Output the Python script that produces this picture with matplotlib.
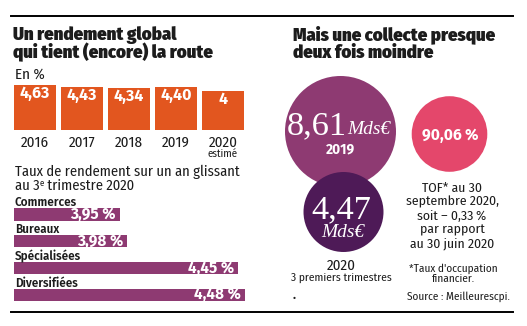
import numpy as np
import matplotlib
matplotlib.use("Agg")
import matplotlib.pyplot as plt
from matplotlib.patches import Circle

# data
years = ["2016", "2017", "2018", "2019", "2020"]
rendement = [4.63, 4.43, 4.34, 4.40, 4.0]
rendement_labels = ["4,63", "4,43", "4,34", "4,40", "4"]

categories = ["Commerces", "Bureaux", "Spécialisées", "Diversifiées"]
taux = [3.95, 3.98, 4.45, 4.48]
taux_labels = ["3,95 %", "3,98 %", "4,45 %", "4,48 %"]

collecte = [8.61, 4.47]
collecte_labels = ["8,61", "4,47"]
collecte_years = ["2019", "2020"]
tof_label = "90,06\u2009%"
tof_lines = ["TOF* au 30", "septembre 2020,", "soit – 0,33\u2009%", "par rapport", "au 30 juin 2020"]

ORANGE = "#E2561F"
PURPLE = "#8E3A72"
DARK = "#4E1A57"
PINK = "#E4476B"
TXT = "#1c1c1c"

COND = ["Fira Sans Condensed", "Roboto Condensed", "DejaVu Sans"]
WIDE = ["Fira Sans", "Roboto", "DejaVu Sans"]
SERIF = ["Liberation Serif", "DejaVu Serif"]

plt.rcParams["font.family"] = COND

W, H = 527, 326
fig = plt.figure(figsize=(W / 100, H / 100), dpi=100)
fig.patch.set_facecolor("white")
renderer = fig.canvas.get_renderer()


def px_axes(left, top, right, bottom):
    return fig.add_axes([left / W, 1 - bottom / H, (right - left) / W, (bottom - top) / H])


def text_width(s, size, **kw):
    t = fig.text(0, 0, s, fontsize=size, **kw)
    w = t.get_window_extent(renderer=renderer).width
    t.remove()
    return w


def fit_size(s, width, **kw):
    # font size that gives a text of this width in pixels
    return 10 * width / text_width(s, 10, **kw)


# overlay in pixel coords for text, rules and circles
ov = fig.add_axes([0, 0, 1, 1])
ov.set_xlim(0, W)
ov.set_ylim(H, 0)
ov.axis("off")

ov.plot([11, 513], [16, 16], color="black", lw=1.4)
ov.plot([11, 513], [311.5, 311.5], color="black", lw=1.4)

# titles
title_kw = dict(family=COND, fontweight="black", color=TXT)
fs_title = 0.93 * fit_size("qui tient (encore) la route", 216, **title_kw)
ov.text(13, 40.5, "Un rendement global", fontsize=fs_title, **title_kw)
ov.text(13, 58.5, "qui tient (encore) la route", fontsize=fs_title, **title_kw)
ov.text(293, 40.5, "Mais une collecte presque", fontsize=fs_title, **title_kw)
ov.text(293, 58.5, "deux fois moindre", fontsize=fs_title, **title_kw)

ov.text(15, 79, "En %", fontsize=fit_size("En %", 30), color=TXT)

# vertical bars
ax1 = px_axes(14, 130 - 5 * 9.75, 244, 130)
x = np.arange(len(years))
ax1.bar(x, rendement, width=0.894, color=ORANGE)
ax1.set_xlim(-0.447, len(years) - 1 + 0.447)
ax1.set_ylim(0, 5)
ax1.axis("off")
fs_val = fit_size("4,63", 30, family=WIDE, fontweight="bold")
for xi, v, lab in zip(x, rendement, rendement_labels):
    ax1.annotate(lab, (xi, v), xytext=(0, -9.6), textcoords="offset points",
                 ha="center", va="baseline", color="white",
                 fontsize=fs_val, fontweight="bold", family=WIDE)
fs_year = fit_size("2016", 28)
for xi, yr in zip(x, years):
    ax1.annotate(yr, (xi, 0), xytext=(0, -12), textcoords="offset points",
                 ha="center", va="baseline", fontsize=fs_year, color=TXT,
                 annotation_clip=False)
ax1.annotate("estimé", (x[-1], 0), xytext=(0, -19.4), textcoords="offset points",
             ha="center", va="baseline", fontsize=fit_size("estimé", 30), color=TXT,
             annotation_clip=False)

# horizontal bars
fs_sub = fit_size("Taux de rendement sur un an glissant", 226)
ov.text(15, 176, "Taux de rendement sur un an glissant", fontsize=fs_sub, color=TXT)
# "au 3e trimestre 2020" with a small raised e
x0 = 15
ov.text(x0, 190, "au 3", fontsize=fs_sub, color=TXT)
x0 += text_width("au 3", fs_sub)
ov.text(x0 + 0.3, 185.5, "e", fontsize=fs_sub * 0.6, color=TXT)
x0 += text_width("e", fs_sub * 0.6) + 0.3
ov.text(x0, 190, " trimestre 2020", fontsize=fs_sub, color=TXT)

ax2 = px_axes(14, 214.5 - 13.375, 250, 294.75 + 13.375)
y = np.arange(len(categories))
ax2.barh(y, [v - 3.5 for v in taux], left=3.5, height=0.467, color=PURPLE)
ax2.set_xlim(3.5, 4.5)
ax2.set_ylim(len(categories) - 0.5, -0.5)
ax2.axis("off")
fs_cat = fit_size("Commerces", 62, family=WIDE, fontweight="semibold")
fs_pct = fit_size("3,95 %", 45, family=WIDE, fontweight="bold")
for yi, v, lab, cat in zip(y, taux, taux_labels, categories):
    ax2.annotate(lab, (v, yi), xytext=(-3, -3.3), textcoords="offset points",
                 ha="right", va="baseline", color="white", fontsize=fs_pct,
                 fontweight="bold", family=WIDE)
    ax2.annotate(cat, (3.5, yi), xytext=(0.5, 5.8), textcoords="offset points",
                 ha="left", va="baseline", color=TXT, fontsize=fs_cat,
                 fontweight="semibold", family=WIDE)

# circles: area proportional to collecte
k = 55.5 / np.sqrt(collecte[0])
ov.add_patch(Circle((340.5, 131.5), k * np.sqrt(collecte[0]), color=PURPLE, lw=0))
ov.add_patch(Circle((343.5, 212), k * np.sqrt(collecte[1]), color=DARK, lw=0))
ov.add_patch(Circle((449.5, 134), 37.8, color=PINK, lw=0))

fs_big = fit_size("4,47", 60, family=SERIF)
fs_mds = fit_size("Mds€", 43, family=SERIF, style="italic")
ov.text(347, 134, collecte_labels[0], ha="right", fontsize=fs_big, color="white", family=SERIF)
ov.text(347, 134, "Mds€", ha="left", fontsize=fs_mds, color="white", family=SERIF, style="italic")
fs_bold = fit_size("2019", 29, family=WIDE, fontweight="bold")
ov.text(340.7, 153.5, collecte_years[0], ha="center", fontsize=fs_bold, color="white",
        fontweight="bold", family=WIDE)

ov.text(341.5, 218.3, collecte_labels[1], ha="center", fontsize=fs_big, color="white", family=SERIF)
ov.text(342.3, 236.7, "Mds€", ha="center", fontsize=fs_mds, color="white", family=SERIF, style="italic")
ov.text(341.7, 270, collecte_years[1], ha="center", fontsize=fit_size("2020", 29), color=TXT)
ov.text(341.2, 281, "3 premiers trimestres", ha="center",
        fontsize=fit_size("3 premiers trimestres", 101), color=TXT)
ov.text(294, 299, ".", ha="center", fontsize=9, color=TXT, fontweight="bold")

ov.text(450, 140, tof_label, ha="center", fontsize=fit_size(tof_label, 56, family=WIDE, fontweight="bold"),
        color="white", fontweight="bold", family=WIDE)

fs_tof = fit_size("septembre 2020,", 93)
for i, line in enumerate(tof_lines):
    ov.text(452, 192 + i * 13.9, line, ha="center", fontsize=fs_tof, color=TXT)

fs_note = fit_size("*Taux d'occupation", 88)
ov.text(453.4, 271.7, "*Taux d'occupation", ha="center", fontsize=fs_note, color=TXT)
ov.text(453.5, 281.7, "financier.", ha="center", fontsize=fs_note, color=TXT)
ov.text(458.3, 299.3, "Source : Meilleurescpi.", ha="center",
        fontsize=fit_size("Source : Meilleurescpi.", 103), color=TXT)

fig.savefig("out.png", dpi=100, facecolor="white")
